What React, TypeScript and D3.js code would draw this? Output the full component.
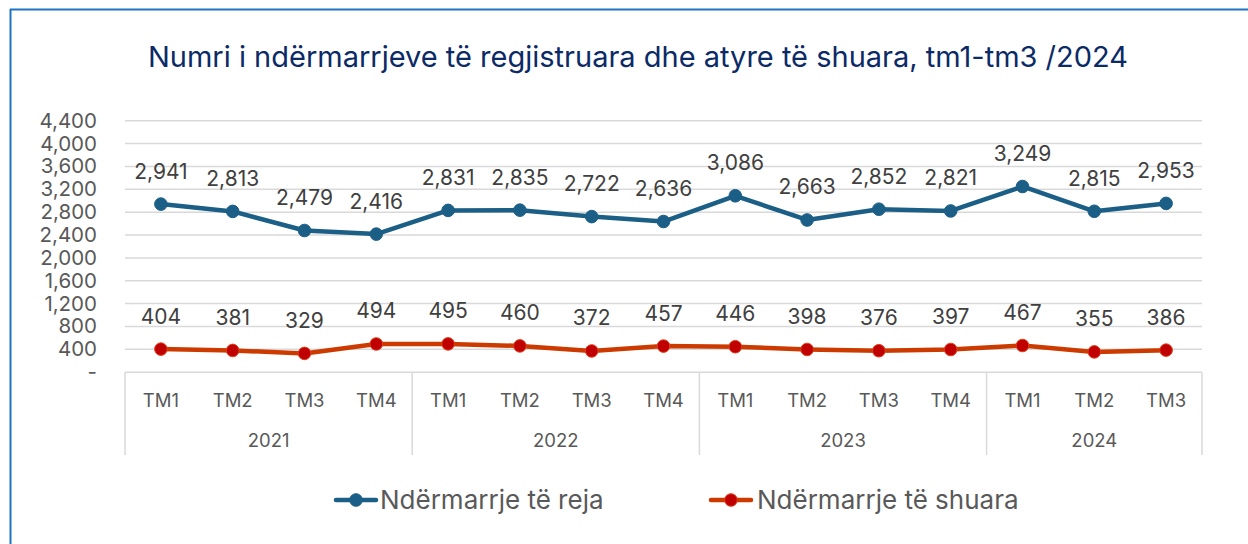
import React from 'react';
import * as d3 from 'd3';

const quarters = ['TM1','TM2','TM3','TM4','TM1','TM2','TM3','TM4','TM1','TM2','TM3','TM4','TM1','TM2','TM3'];
const years = ['2021','2022','2023','2024'];
const yearSpans = [4,4,4,3];
const newFirms = [2941,2813,2479,2416,2831,2835,2722,2636,3086,2663,2852,2821,3249,2815,2953];
const closedFirms = [404,381,329,494,495,460,372,457,446,398,376,397,467,355,386];
const yTicks = [0,400,800,1200,1600,2000,2400,2800,3200,3600,4000,4400];
const title = 'Numri i ndërmarrjeve të regjistruara dhe atyre të shuara, tm1-tm3 /2024';
const seriesNames = ['Ndërmarrje të reja', 'Ndërmarrje të shuara'];

const FONT = 'Inter, "Open Sans", sans-serif';
const W = 1248, H = 544;
const BLUE = '#1B5E86';
const RED_LINE = '#CC3A00';
const RED_FILL = '#C00000';

export default function App() {
  const idx = quarters.map((_, i) => String(i));
  const x = d3.scaleBand<string>().domain(idx).range([125, 1202]);
  const y = d3.scaleLinear().domain([0, 4400]).range([372.2, 120.7]);
  const cx = (i: number) => (x(String(i)) as number) + x.bandwidth() / 2;
  const line = d3.line<number>().x((_, i) => cx(i)).y(d => y(d));
  const fmt = d3.format(',');

  const boundaries: number[] = [0];
  yearSpans.reduce((acc, s) => { boundaries.push(acc + s); return acc + s; }, 0);

  const series = [
    { data: newFirms, stroke: BLUE, fill: BLUE, mstroke: BLUE },
    { data: closedFirms, stroke: RED_LINE, fill: RED_FILL, mstroke: '#E0401A' },
  ];

  const legendItems = [
    { x0: 336, tx: 380, ...series[0], name: seriesNames[0] },
    { x0: 711, tx: 757, ...series[1], name: seriesNames[1] },
  ];

  return (
    <svg width={W} height={H} style={{ position: 'absolute', left: 0, top: 0, background: '#fff' }} fontFamily={FONT}>
      <rect x={0} y={0} width={W} height={H} fill="#fff" />
      <line x1={10.5} y1={9} x2={10.5} y2={H} stroke="#1C74C4" strokeWidth={2} />
      <line x1={10} y1={9.5} x2={W} y2={9.5} stroke="#1C74C4" strokeWidth={2} />
      <text x={638} y={67} textAnchor="middle" fontSize={29} fill="#0B2A66">{title}</text>

      {yTicks.filter(t => t > 0).map(t => (
        <line key={t} x1={125} x2={1202} y1={y(t)} y2={y(t)} stroke="#D9D9D9" strokeWidth={1.5} />
      ))}
      {yTicks.map(t => (
        <text key={t} x={97} y={y(t) + 7} textAnchor="end" fontSize={20.5} fill="#595959">{t === 0 ? '-' : fmt(t)}</text>
      ))}

      <line x1={125} x2={1202} y1={y(0)} y2={y(0)} stroke="#D9D9D9" strokeWidth={1.5} />
      {boundaries.map(b => {
        const bx = b === quarters.length ? 1202 : (x(String(b)) as number);
        return <line key={b} x1={bx} x2={bx} y1={y(0)} y2={455} stroke="#D9D9D9" strokeWidth={1.5} />;
      })}
      {quarters.map((q, i) => (
        <text key={i} x={cx(i)} y={407} textAnchor="middle" fontSize={18.5} fill="#595959">{q}</text>
      ))}
      {years.map((yr, k) => {
        const a = x(String(boundaries[k])) as number;
        const bIdx = boundaries[k + 1];
        const b = bIdx === quarters.length ? 1202 : (x(String(bIdx)) as number);
        return <text key={yr} x={(a + b) / 2} y={447} textAnchor="middle" fontSize={18.5} fill="#595959">{yr}</text>;
      })}

      {series.map((s, si) => (
        <g key={si}>
          <path d={line(s.data) || ''} fill="none" stroke={s.stroke} strokeWidth={4.5} strokeLinejoin="round" />
          {s.data.map((v, i) => (
            <circle key={i} cx={cx(i)} cy={y(v)} r={6.3} fill={s.fill} stroke={s.mstroke} strokeWidth={1} />
          ))}
          {s.data.map((v, i) => (
            <text key={'l' + i} x={cx(i)} y={y(v) - 25.5} textAnchor="middle" fontSize={21} fill="#404040">{fmt(v)}</text>
          ))}
        </g>
      ))}

      {legendItems.map((l, k) => (
        <g key={k}>
          <line x1={l.x0} x2={l.x0 + 40} y1={500} y2={500} stroke={l.stroke} strokeWidth={4.5} strokeLinecap="round" />
          <circle cx={l.x0 + 20} cy={500} r={6.3} fill={l.fill} stroke={l.mstroke} strokeWidth={1} />
          <text x={l.tx} y={509} fontSize={26} fill="#595959">{l.name}</text>
        </g>
      ))}
    </svg>
  );
}
